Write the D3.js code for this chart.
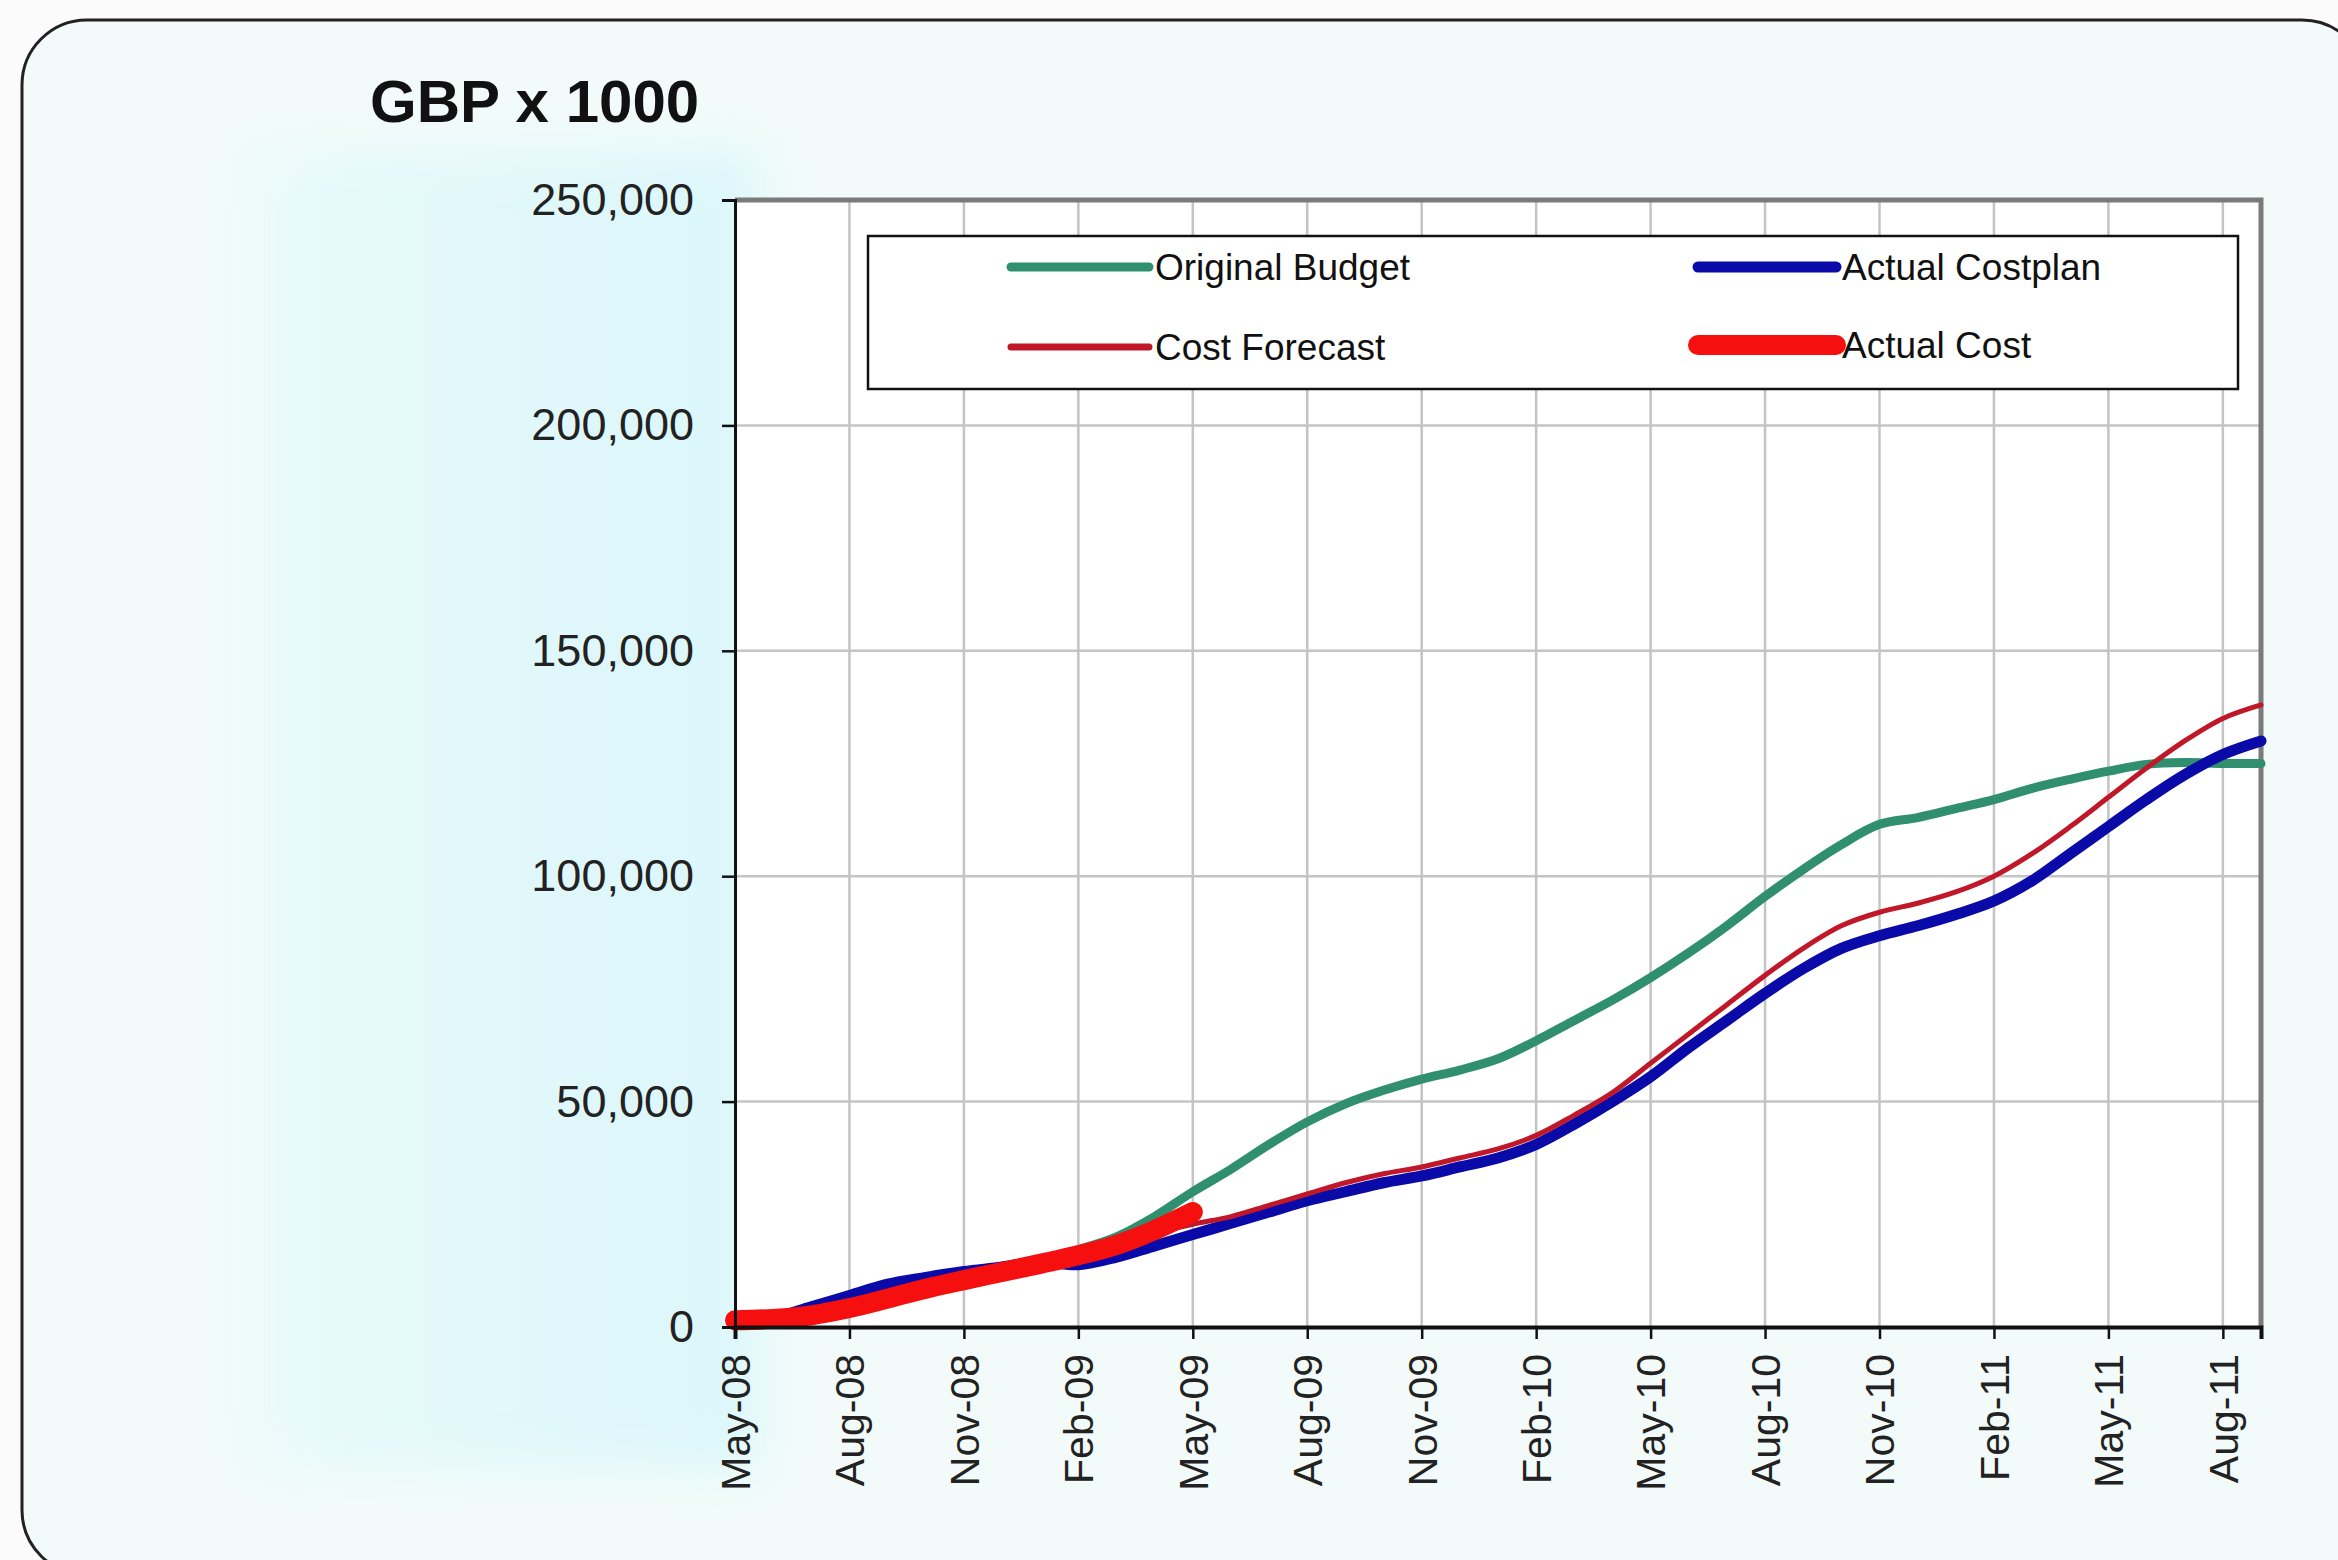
<!DOCTYPE html>
<html>
<head>
<meta charset="utf-8">
<script src="https://cdn.jsdelivr.net/npm/d3@7"></script>
<style>
  html, body { margin: 0; padding: 0; background: #fbfbfb; }
  svg { display: block; }
  text { font-family: "Liberation Sans", Arial, sans-serif; }
</style>
</head>
<body>
<div id="chart"></div>
<script>
// cumulative cost chart, values in GBP x 1000
const months = [
  "May-08", "Jun-08", "Jul-08", "Aug-08", "Sep-08", "Oct-08", "Nov-08", "Dec-08",
  "Jan-09", "Feb-09", "Mar-09", "Apr-09", "May-09", "Jun-09", "Jul-09", "Aug-09",
  "Sep-09", "Oct-09", "Nov-09", "Dec-09", "Jan-10", "Feb-10", "Mar-10", "Apr-10",
  "May-10", "Jun-10", "Jul-10", "Aug-10", "Sep-10", "Oct-10", "Nov-10", "Dec-10",
  "Jan-11", "Feb-11", "Mar-11", "Apr-11", "May-11", "Jun-11", "Jul-11", "Aug-11",
  "Sep-11"
];

const originalBudget = [
  500, 1500, 3000, 5000, 7000, 9000, 11000, 13000, 15000, 17200,
  20000, 24500, 30000, 35000, 40500, 45500, 49500, 52500, 55000, 57000,
  59500, 63500, 68000, 72500, 77500, 83000, 89000, 95500, 101500, 107000,
  111500, 113000, 115000, 117000, 119500, 121500, 123300, 124800, 125200, 125000,
  125000
];

const actualCostplan = [
  500, 2000, 4500, 7000, 9500, 11000, 12300, 13300, 14500, 13800,
  15500, 18000, 20500, 23000, 25500, 28000, 30000, 32000, 33500, 35500,
  37500, 40500, 45000, 50000, 55500, 62000, 68000, 74000, 79500, 84000,
  86800, 89000, 91500, 94500, 99000, 105000, 111000, 117000, 122500, 127000,
  130000
];

const costForecast = [
  1500, 1800, 2600, 4200, 6300, 8500, 10400, 12200, 14000, 15900,
  18200, 20800, 22800, 24500, 27000, 29500, 32000, 34000, 35500, 37500,
  39500, 42500, 47000, 52000, 58500, 65000, 71500, 78000, 84000, 89000,
  92000, 94000, 96500, 100000, 105000, 111000, 117500, 124000, 130000, 135000,
  138000
];

// actual cost only known up to May-09
const actualCost = [
  1500, 1800, 2600, 4200, 6300, 8500, 10400, 12200, 14000, 15900,
  18200, 21500, 25500
];

const yTicks = [0, 50000, 100000, 150000, 200000, 250000];
const xTickLabels = months.filter((m, i) => i % 3 === 0);

const seriesNames = ["Original Budget", "Actual Costplan", "Cost Forecast", "Actual Cost"];

(function () {
  const width = 2338;
  const height = 1560;
  const plot = { left: 735, right: 2261, top: 200, bottom: 1327 };

  const series = [
    { name: seriesNames[0], values: originalBudget, color: "#2f8f6f", width: 9 },
    { name: seriesNames[1], values: actualCostplan, color: "#0a0aa8", width: 11 },
    { name: seriesNames[2], values: costForecast, color: "#c01828", width: 5 },
    { name: seriesNames[3], values: actualCost, color: "#f50f0f", width: 20 },
  ];

  const svg = d3.select("#chart")
    .append("svg")
    .attr("width", width)
    .attr("height", height);

  const defs = svg.append("defs");
  const bg = defs.append("linearGradient")
    .attr("id", "bgGrad")
    .attr("gradientUnits", "userSpaceOnUse")
    .attr("x1", 0).attr("x2", width).attr("y1", 0).attr("y2", 0);
  bg.append("stop").attr("offset", "0%").attr("stop-color", "#f3fbf9");
  bg.append("stop").attr("offset", "9%").attr("stop-color", "#f0fbf9");
  bg.append("stop").attr("offset", "14%").attr("stop-color", "#e6f9fa");
  bg.append("stop").attr("offset", "31%").attr("stop-color", "#dcf7fb");
  bg.append("stop").attr("offset", "96%").attr("stop-color", "#eef9f7");
  bg.append("stop").attr("offset", "100%").attr("stop-color", "#f2faf8");

  defs.append("filter").attr("id", "soft")
    .attr("x", "-20%").attr("y", "-20%").attr("width", "140%").attr("height", "140%")
    .append("feGaussianBlur").attr("stdDeviation", 25);

  // outer rounded panel
  svg.append("rect")
    .attr("x", 22).attr("y", 20)
    .attr("width", 2345).attr("height", 1555)
    .attr("rx", 65).attr("ry", 65)
    .attr("fill", "#f2fbf9")
    .attr("stroke", "#222")
    .attr("stroke-width", 3);

  // cyan glow behind the y axis labels
  svg.append("rect")
    .attr("x", 240).attr("y", 150)
    .attr("width", 520).attr("height", 1320)
    .attr("fill", "url(#bgGrad)")
    .attr("filter", "url(#soft)");

  svg.append("text")
    .attr("x", 370)
    .attr("y", 122)
    .attr("font-size", 60)
    .attr("font-weight", "bold")
    .attr("fill", "#111")
    .text("GBP x 1000");

  const x = d3.scalePoint().domain(months).range([plot.left, plot.right]);
  const y = d3.scaleLinear().domain([0, 250000]).range([plot.bottom, plot.top]);

  // plot area
  svg.append("rect")
    .attr("x", plot.left).attr("y", plot.top)
    .attr("width", plot.right - plot.left)
    .attr("height", plot.bottom - plot.top)
    .attr("fill", "#fff");

  // gridlines
  svg.append("g")
    .selectAll("line")
    .data(yTicks.slice(1, -1))
    .join("line")
    .attr("x1", plot.left).attr("x2", plot.right)
    .attr("y1", (d) => y(d)).attr("y2", (d) => y(d))
    .attr("stroke", "#c4c4c4")
    .attr("stroke-width", 2.5);

  svg.append("g")
    .selectAll("line")
    .data(xTickLabels.slice(1))
    .join("line")
    .attr("x1", (d) => x(d)).attr("x2", (d) => x(d))
    .attr("y1", plot.top).attr("y2", plot.bottom)
    .attr("stroke", "#c4c4c4")
    .attr("stroke-width", 2.5);

  // frame top and right
  svg.append("path")
    .attr("d", `M${plot.left},${plot.top}H${plot.right}V${plot.bottom}`)
    .attr("fill", "none")
    .attr("stroke", "#7a7a7a")
    .attr("stroke-width", 5);

  // lines
  const line = d3.line()
    .x((d, i) => x(months[i]))
    .y((d) => y(d))
    .curve(d3.curveCatmullRom.alpha(0.5));

  svg.append("g")
    .selectAll("path")
    .data(series)
    .join("path")
    .attr("d", (s) => line(s.values))
    .attr("fill", "none")
    .attr("stroke", (s) => s.color)
    .attr("stroke-width", (s) => s.width)
    .attr("stroke-linecap", "round")
    .attr("stroke-linejoin", "round");

  // y axis
  const yAxis = svg.append("g")
    .attr("transform", `translate(${plot.left},0)`)
    .call(d3.axisLeft(y)
      .tickValues(yTicks)
      .tickFormat(d3.format(","))
      .tickSize(13)
      .tickPadding(28));
  yAxis.select(".domain").attr("stroke", "#111").attr("stroke-width", 3);
  yAxis.selectAll(".tick line").attr("stroke", "#111").attr("stroke-width", 2.5);
  yAxis.selectAll(".tick text")
    .attr("font-size", 45)
    .attr("font-family", "'Liberation Sans', Arial, sans-serif")
    .attr("fill", "#222");

  // x axis
  const xAxis = svg.append("g")
    .attr("transform", `translate(0,${plot.bottom})`)
    .call(d3.axisBottom(x)
      .tickValues(xTickLabels)
      .tickSize(12)
      .tickPadding(0));
  xAxis.select(".domain").attr("stroke", "#111").attr("stroke-width", 4);
  xAxis.selectAll(".tick line").attr("stroke", "#111").attr("stroke-width", 2.5);
  xAxis.selectAll(".tick text")
    .attr("font-size", 41)
    .attr("font-family", "'Liberation Sans', Arial, sans-serif")
    .attr("fill", "#222")
    .attr("text-anchor", "end")
    .attr("transform", "rotate(-90)")
    .attr("x", -27)
    .attr("y", 0)
    .attr("dy", "0.35em");

  // legend
  const legend = svg.append("g");
  legend.append("rect")
    .attr("x", 868).attr("y", 236)
    .attr("width", 1370).attr("height", 153)
    .attr("fill", "#fff")
    .attr("stroke", "#111")
    .attr("stroke-width", 2.5);

  const legendPos = [
    { x: 1011, y: 267 },
    { x: 1698, y: 267 },
    { x: 1011, y: 347 },
    { x: 1698, y: 345 },
  ];

  const items = legend.selectAll("g.item")
    .data(series)
    .join("g")
    .attr("class", "item")
    .attr("transform", (d, i) => `translate(${legendPos[i].x},${legendPos[i].y})`);

  items.append("line")
    .attr("x1", 0).attr("x2", 138)
    .attr("y1", 0).attr("y2", 0)
    .attr("stroke", (d) => d.color)
    .attr("stroke-width", (d) => Math.max(d.width, 7))
    .attr("stroke-linecap", "round");

  items.append("text")
    .attr("x", 144)
    .attr("dy", "0.36em")
    .attr("font-size", 37)
    .attr("fill", "#111")
    .text((d) => d.name);
})();
</script>
</body>
</html>
